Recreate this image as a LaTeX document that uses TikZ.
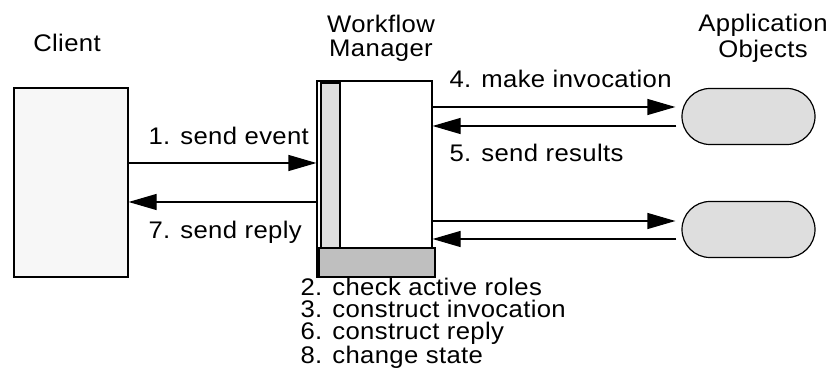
\documentclass[tikz,border=0pt]{standalone}
\usepackage{fontspec}
\setmainfont[FakeStretch=1.07, LetterSpace=1.5]{Liberation Sans}
\usetikzlibrary{arrows.meta,shapes.misc}

\begin{document}
\begin{tikzpicture}[x=1pt, y=1pt, line width=1.2pt,
    flow/.style={-{Triangle[length=28pt, width=16pt]}},
    lbl/.style={inner sep=0pt, font=\fontsize{24}{24}\selectfont},
    obj/.style={draw, rounded rectangle, fill=black!13, minimum width=133pt, minimum height=56pt, inner sep=0pt}]
    \useasboundingbox (0,0) rectangle (831,386);

    % Client
    \node[lbl, anchor=base] (clienttitle) at (67, 334) {Client};
    \node[draw, fill=black!3, minimum width=114pt, minimum height=189pt, inner sep=0pt] (client) at (71, 203.5) {};

    % Workflow manager
    \node[lbl, align=center, anchor=base] (wmtitle) at (381, 329) {Workflow\\Manager};
    \node[draw, fill=white, minimum width=115pt, minimum height=196pt, inner sep=0pt] (wm) at (374.5, 207) {};
    \node[draw, fill=black!13, minimum width=19pt, minimum height=165pt, inner sep=0pt] (strip) at (330.5, 220.5) {};
    \node[draw, fill=black!25, minimum width=116pt, minimum height=29pt, inner sep=0pt] (bar) at (377, 123.5) {};

    % Application objects
    \node[lbl, align=center, anchor=base, font=\fontsize{24}{26}\selectfont] (apptitle) at (763, 328) {Application\\Objects};
    \node[obj] (app1) at (748.5, 269.5) {};
    \node[obj] (app2) at (748.5, 156.5) {};

    % client <-> manager
    \draw[flow] ([yshift=19.5pt]client.east) -- ([yshift=16pt]wm.west);
    \draw[flow] ([yshift=-23pt]wm.west) -- ([yshift=-19.5pt]client.east);
    \node[lbl, anchor=base west] (ev) at (148, 241) {1. send event};
    \node[lbl, anchor=base west] (rp) at (148, 147) {7. send reply};

    % manager <-> objects
    \draw[flow, shorten >=6pt] ([yshift=72pt]wm.east) -- ([yshift=9.5pt]app1.west);
    \draw[flow, shorten <=5pt] ([yshift=-9.5pt]app1.west) -- ([yshift=53pt]wm.east);
    \node[lbl, anchor=base west] (inv) at (449, 298) {4. make invocation};
    \node[lbl, anchor=base west] (res) at (449, 224) {5. send results};

    \draw[flow, shorten >=6pt] ([yshift=-42pt]wm.east) -- ([yshift=8.5pt]app2.west);
    \draw[flow, shorten <=5pt] ([yshift=-9.5pt]app2.west) -- ([yshift=-60pt]wm.east);

    % steps inside the manager
    \node[lbl, align=left, anchor=base west, font=\fontsize{24}{22.3}\selectfont] (steps) at (300, 23)
        {2. check active roles\\3. construct invocation\\6. construct reply\\8. change state};
\end{tikzpicture}
\end{document}
